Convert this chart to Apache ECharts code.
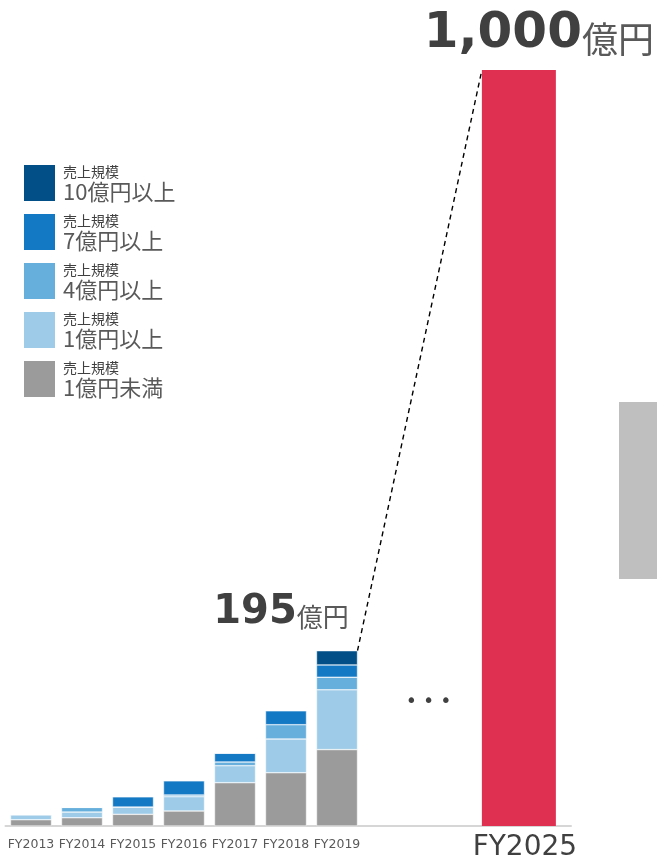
<!DOCTYPE html>
<html>
<head>
<meta charset="utf-8">
<script src="https://cdn.jsdelivr.net/npm/echarts@6/dist/echarts.min.js"></script>
<style>html,body{margin:0;padding:0;background:#fff}#c{width:657px;height:864px}</style>
</head>
<body>
<div id="c"></div>
<script>
// Data (億円)
const categories = ['FY2013','FY2014','FY2015','FY2016','FY2017','FY2018','FY2019'];
const seriesNames = ['売上規模\n1億円未満','売上規模\n1億円以上','売上規模\n4億円以上','売上規模\n7億円以上','売上規模\n10億円以上'];
const under1 = [7.0, 9.2, 13.0, 16.7, 48.2, 59.3, 85.0];
const over1  = [5.6, 6.3, 8.1, 15.9, 18.9, 37.5, 66.5];
const over4  = [0, 5.2, 0, 1.9, 4.1, 15.9, 14.0];
const over7  = [0, 0, 11.5, 15.9, 9.7, 15.6, 13.7];
const over10 = [0, 0, 0, 0, 0, 0, 15.8];
const targetCategories = ['', 'FY2025'];
const targetValues = [null, 1000];

const FONT = '"DejaVu Sans", "Noto Sans CJK JP", sans-serif';
const CJK = '"Noto Sans CJK JP", sans-serif';
const colors = ['#9b9b9b', '#9dcbe8', '#66aedb', '#1479c4', '#024f88'];
const stackValues = [under1, over1, over4, over7, over10];
const totals = categories.map((c, i) => stackValues.reduce((s, arr) => s + arr[i], 0));
const lastIdx = categories.length - 1;
const BAR_W = 41, TARGET_W = 74;

const chart = echarts.init(document.getElementById('c'));

const stackSeries = stackValues.map((vals, k) => ({
  name: seriesNames[k],
  type: 'bar',
  stack: 'total',
  xAxisIndex: 0, yAxisIndex: 0,
  barWidth: BAR_W,
  itemStyle: { color: colors[k], borderColor: '#ffffff', borderWidth: 0.5 },
  emphasis: { disabled: true },
  data: vals.map((v, i) => {
    if (k === stackValues.length - 1 && i === lastIdx) {
      return {
        value: v,
        label: {
          show: true, position: 'top', distance: 18, offset: [-56, 0],
          formatter: () => '{n|' + Math.round(totals[lastIdx]) + '}{u|億円}',
          rich: {
            n: { fontFamily: FONT, fontWeight: 'bold', fontSize: 40, color: '#404040' },
            u: { fontFamily: CJK, fontSize: 26, color: '#595959', padding: [8, 0, 0, 0] }
          }
        }
      };
    }
    return v;
  })
}));

const option = {
  animation: false,
  backgroundColor: '#ffffff',
  legend: {
    orient: 'vertical', left: 22, top: 163, padding: 0,
    itemWidth: 33, itemHeight: 38, itemGap: 9,
    icon: 'rect',
    selectedMode: false,
    data: seriesNames.slice().reverse(),
    formatter: (name) => {
      const parts = name.split('\n');
      return '{a|' + parts[0] + '}\n{b|' + parts[1] + '}';
    },
    textStyle: {
      padding: [0, 0, 0, 2],
      rich: {
        a: { fontFamily: CJK, fontSize: 14, lineHeight: 17, color: '#404040' },
        b: { fontFamily: CJK, fontSize: 22, lineHeight: 22, color: '#595959' }
      }
    }
  },
  grid: [
    { left: 5.5, right: 294.5, top: 70, bottom: 38 },
    { left: 362.5, right: 86, top: 70, bottom: 38 }
  ],
  xAxis: [
    {
      type: 'category', gridIndex: 0, data: categories,
      axisLine: { lineStyle: { color: '#d6d6d6', width: 2 } },
      axisTick: { show: false },
      axisLabel: { interval: 0, margin: 12, fontFamily: FONT, fontSize: 12.5, color: '#595959' }
    },
    {
      type: 'category', gridIndex: 1, data: targetCategories,
      axisLine: { lineStyle: { color: '#d6d6d6', width: 2 } },
      axisTick: { show: false },
      axisLabel: { interval: 0, margin: 8, padding: [0, 0, 0, 12], fontFamily: FONT, fontSize: 28, color: '#404040' }
    }
  ],
  yAxis: [
    { type: 'value', gridIndex: 0, min: 0, max: 841, show: false },
    { type: 'value', gridIndex: 1, min: 0, max: 1000, show: false }
  ],
  series: stackSeries.concat([{
    name: 'target',
    type: 'bar',
    xAxisIndex: 1, yAxisIndex: 1,
    barWidth: TARGET_W,
    itemStyle: { color: '#e03052' },
    emphasis: { disabled: true },
    label: {
      show: true, position: 'top', distance: 11, offset: [20, 0],
      formatter: (p) => '{n|' + p.value.toLocaleString('en-US') + '}{u|億円}',
      rich: {
        n: { fontFamily: FONT, fontWeight: 'bold', fontSize: 50, color: '#404040' },
        u: { fontFamily: CJK, fontSize: 36, color: '#595959', padding: [10, 0, 0, 0] }
      }
    },
    data: targetValues
  }])
};
chart.setOption(option);

// Connector from FY2019 stack top to FY2025 bar top, positioned through the axes' scales
const p19 = chart.convertToPixel({ xAxisIndex: 0, yAxisIndex: 0 }, [categories[lastIdx], totals[lastIdx]]);
const p25 = chart.convertToPixel({ xAxisIndex: 1, yAxisIndex: 1 }, [targetCategories[1], targetValues[1]]);
const pEll = chart.convertToPixel({ xAxisIndex: 1, yAxisIndex: 1 }, [targetCategories[0], 0]);

chart.setOption({
  graphic: [
    {
      type: 'line', id: 'connector', silent: true,
      shape: { x1: p19[0] + BAR_W / 2, y1: p19[1], x2: p25[0] - TARGET_W / 2, y2: p25[1] },
      style: { stroke: '#000000', lineWidth: 1.4, lineDash: [5, 4] }
    },
    {
      type: 'text', id: 'ellipsis', silent: true,
      x: pEll[0] + 14, y: 702,
      style: { text: '• • •', fontSize: 19, fill: '#404040', align: 'center', verticalAlign: 'middle', fontFamily: FONT }
    },
    {
      type: 'rect', id: 'sidebox', silent: true,
      shape: { x: 619, y: 402, width: 38, height: 177 },
      style: { fill: '#bfbfbf' }
    }
  ]
});
</script>
</body>
</html>
